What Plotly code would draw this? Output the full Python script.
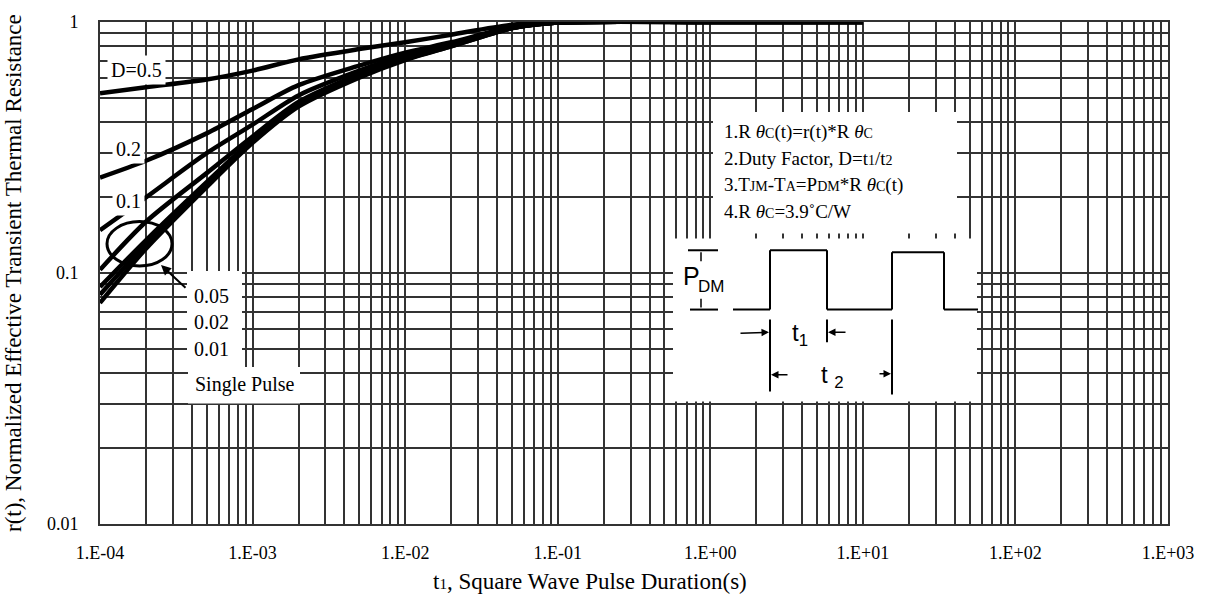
import plotly.graph_objects as go

# ---------------- data ----------------
t_vals = [1e-4, 2e-4, 5e-4, 1e-3, 2e-3, 5e-3, 1e-2, 2e-2, 5e-2, 1e-1, 1.0, 10.0]
r_d05 = [0.52, 0.55, 0.59, 0.64, 0.71, 0.78, 0.83, 0.89, 0.975, 0.998, 1.0, 1.0]
r_d02 = [0.24, 0.28, 0.36, 0.45, 0.56, 0.67, 0.755, 0.83, 0.955, 0.995, 1.0, 1.0]
r_d01 = [0.148, 0.20, 0.30, 0.39, 0.51, 0.64, 0.74, 0.82, 0.95, 0.995, 1.0, 1.0]
r_d005 = [0.103, 0.16, 0.25, 0.35, 0.48, 0.62, 0.725, 0.81, 0.945, 0.995, 1.0, 1.0]
r_d002 = [0.088, 0.135, 0.23, 0.34, 0.47, 0.61, 0.715, 0.805, 0.945, 0.995, 1.0, 1.0]
r_d001 = [0.082, 0.13, 0.225, 0.335, 0.465, 0.605, 0.71, 0.80, 0.945, 0.995, 1.0, 1.0]
r_single = [0.076, 0.125, 0.22, 0.33, 0.46, 0.60, 0.705, 0.80, 0.945, 0.995, 1.0, 1.0]
series = [r_d05, r_d02, r_d01, r_d005, r_d002, r_d001, r_single]

x_tick_labels = ["1.E-04", "1.E-03", "1.E-02", "1.E-01", "1.E+00", "1.E+01", "1.E+02", "1.E+03"]
y_tick_labels = ["0.01", "0.1", "1"]

# grid positions (1..9 x 10^k)
x_grid = []
x_text = []
for k in range(-4, 3):
    for m in range(1, 10):
        x_grid.append(m * 10.0 ** k)
        x_text.append(x_tick_labels[k + 4] if m == 1 else "")
x_grid.append(1e3)
x_text.append(x_tick_labels[-1])

y_grid = []
y_text = []
for k in range(-2, 0):
    for m in range(1, 10):
        y_grid.append(m * 10.0 ** k)
        y_text.append(y_tick_labels[k + 2] if m == 1 else "")
y_grid.append(1.0)
y_text.append(y_tick_labels[-1])

# ---------------- layout geometry ----------------
W, H = 1209, 603
L, R, T, B = 100, 41, 16, 79
PW, PH = W - L - R, H - T - B


def px(X):
    return (X - L) / PW


def py(Y):
    return (H - B - Y) / PH


SERIF = "Liberation Serif"
SANS = "Liberation Sans"

fig = go.Figure()
for s in series:
    fig.add_trace(go.Scatter(x=t_vals, y=s, mode="lines",
                             line=dict(color="black", width=4.5, shape="spline", smoothing=0.8),
                             showlegend=False, hoverinfo="skip"))

shapes = []
annotations = []

# white boxes hiding the grid
for (x0, y0, x1, y1) in [(713, 107, 957, 230), (673, 235, 977, 400),
                         (187, 268, 242, 365), (188, 365, 300, 402)]:
    shapes.append(dict(type="rect", xref="paper", yref="paper",
                       x0=px(x0), x1=px(x1), y0=py(y1), y1=py(y0),
                       fillcolor="white", line=dict(width=0), layer="above"))

# ellipse
shapes.append(dict(type="circle", xref="paper", yref="paper",
                   x0=px(107), x1=px(172), y0=py(263), y1=py(218),
                   line=dict(color="black", width=3), layer="above"))

# curve labels
for txt, X, Y in [("D=0.5", 136, 65), ("0.2", 128, 145), ("0.1", 128, 197)]:
    annotations.append(dict(text=txt, xref="paper", yref="paper", x=px(X), y=py(Y),
                            xanchor="center", yanchor="middle", showarrow=False,
                            bgcolor="white", borderpad=3,
                            font=dict(family=SERIF, size=20, color="black")))
for txt, X, Y in [("0.05", 192, 293), ("0.02", 192, 320), ("0.01", 192, 347)]:
    annotations.append(dict(text=txt, xref="paper", yref="paper", x=px(X), y=py(Y),
                            xanchor="left", yanchor="middle", showarrow=False,
                            font=dict(family=SERIF, size=20, color="black")))
annotations.append(dict(text="Single Pulse", xref="paper", yref="paper", x=px(193), y=py(383),
                        xanchor="left", yanchor="middle", showarrow=False,
                        font=dict(family=SERIF, size=20, color="black")))
# arrow to ellipse
annotations.append(dict(text="", xref="paper", yref="paper", x=px(161), y=py(262),
                        ax=26, ay=24, showarrow=True, arrowhead=2, arrowsize=1,
                        arrowwidth=2, arrowcolor="black"))

# notes
sm = "<span style='font-size:14px'>%s</span>"
th = "<i>θ</i>"
notes = [
    "1.R " + th + sm % "C" + "(t)=r(t)*R " + th + sm % "C",
    "2.Duty Factor, D=t" + sm % "1" + "/t" + sm % "2",
    "3.T" + sm % "JM" + "-T" + sm % "A" + "=P" + sm % "DM" + "*R " + th + sm % "C" + "(t)",
    "4.R " + th + sm % "C" + "=3.9˚C/W",
]
for i, txt in enumerate(notes):
    annotations.append(dict(text=txt, xref="paper", yref="paper", x=px(722), y=py(127 + 26.8 * i),
                            xanchor="left", yanchor="middle", showarrow=False,
                            font=dict(family=SERIF, size=19, color="black")))

# pulse diagram
LW = 2
def seg(x0, y0, x1, y1, w=LW):
    shapes.append(dict(type="line", xref="paper", yref="paper",
                       x0=px(x0), y0=py(y0), x1=px(x1), y1=py(y1),
                       line=dict(color="black", width=w), layer="above"))

base, top1, top2 = 307, 247, 249
seg(733, base, 770, base)
seg(770, base, 770, top1)
seg(770, top1, 827, top1)
seg(827, top1, 827, base)
seg(827, base, 892, base)
seg(892, base, 892, top2)
seg(892, top2, 944, top2)
seg(944, top2, 944, base)
seg(944, base, 978, base)
# PDM ticks
seg(688, top1, 718, top1)
seg(690, base, 718, base)
# PDM short stems
seg(701, 249, 701, 258, 1.5)
seg(701, 296, 701, 305, 1.5)
# t1 / t2 markers
seg(770, 317, 770, 390)
seg(827, 317, 827, 340)
seg(892, 317, 892, 393)

def arrow(xh, yh, xt, yt):
    annotations.append(dict(text="", xref="paper", yref="paper", x=px(xh), y=py(yh),
                            ax=xt - xh, ay=yt - yh, showarrow=True, arrowhead=2,
                            arrowsize=1, arrowwidth=1.5, arrowcolor="black"))

arrow(769, 330, 739, 331)
arrow(828, 330, 847, 330)
arrow(771, 373, 789, 373)
arrow(891, 372, 878, 372)

annotations.append(dict(text="P", xref="paper", yref="paper", x=px(681), y=py(273),
                        xanchor="left", yanchor="middle", showarrow=False,
                        font=dict(family=SANS, size=25, color="black")))
annotations.append(dict(text="DM", xref="paper", yref="paper", x=px(696), y=py(284),
                        xanchor="left", yanchor="middle", showarrow=False,
                        font=dict(family=SANS, size=17, color="black")))
annotations.append(dict(text="t<sub>1</sub>", xref="paper", yref="paper", x=px(800), y=py(332),
                        xanchor="center", yanchor="middle", showarrow=False,
                        font=dict(family=SANS, size=24, color="black")))
annotations.append(dict(text="t <sub>2</sub>", xref="paper", yref="paper", x=px(832), y=py(375),
                        xanchor="center", yanchor="middle", showarrow=False,
                        font=dict(family=SANS, size=24, color="black")))

# axis titles
annotations.append(dict(text="r(t), Normalized Effective Transient Thermal Resistance",
                        xref="paper", yref="paper", x=px(13), y=0.5, textangle=-90,
                        xanchor="center", yanchor="middle", showarrow=False,
                        font=dict(family=SERIF, size=23, color="black")))
annotations.append(dict(text="t<span style='font-size:15px'>1</span>, Square Wave Pulse Duration(s)",
                        xref="paper", yref="paper", x=px(590), y=py(582),
                        xanchor="center", yanchor="middle", showarrow=False,
                        font=dict(family=SERIF, size=23, color="black")))

GRID = "#333333"
fig.update_layout(
    width=W, height=H,
    margin=dict(l=L, r=R, t=T, b=B),
    paper_bgcolor="white", plot_bgcolor="white",
    shapes=shapes, annotations=annotations,
    xaxis=dict(type="log", range=[-4, 3], tickmode="array", tickvals=x_grid, ticktext=x_text,
               showgrid=True, gridcolor=GRID, gridwidth=1.5, zeroline=False,
               showline=True, linecolor="#333", linewidth=2, mirror=True,
               ticks="outside", ticklen=11, tickcolor="rgba(0,0,0,0)",
               tickfont=dict(family=SERIF, size=18, color="black")),
    yaxis=dict(type="log", range=[-2, 0], tickmode="array", tickvals=y_grid, ticktext=y_text,
               showgrid=True, gridcolor=GRID, gridwidth=1.5, zeroline=False,
               showline=True, linecolor="#333", linewidth=2, mirror=True,
               ticks="outside", ticklen=16, tickcolor="rgba(0,0,0,0)",
               tickfont=dict(family=SERIF, size=18, color="black")),
)

fig.write_html("out.html")
